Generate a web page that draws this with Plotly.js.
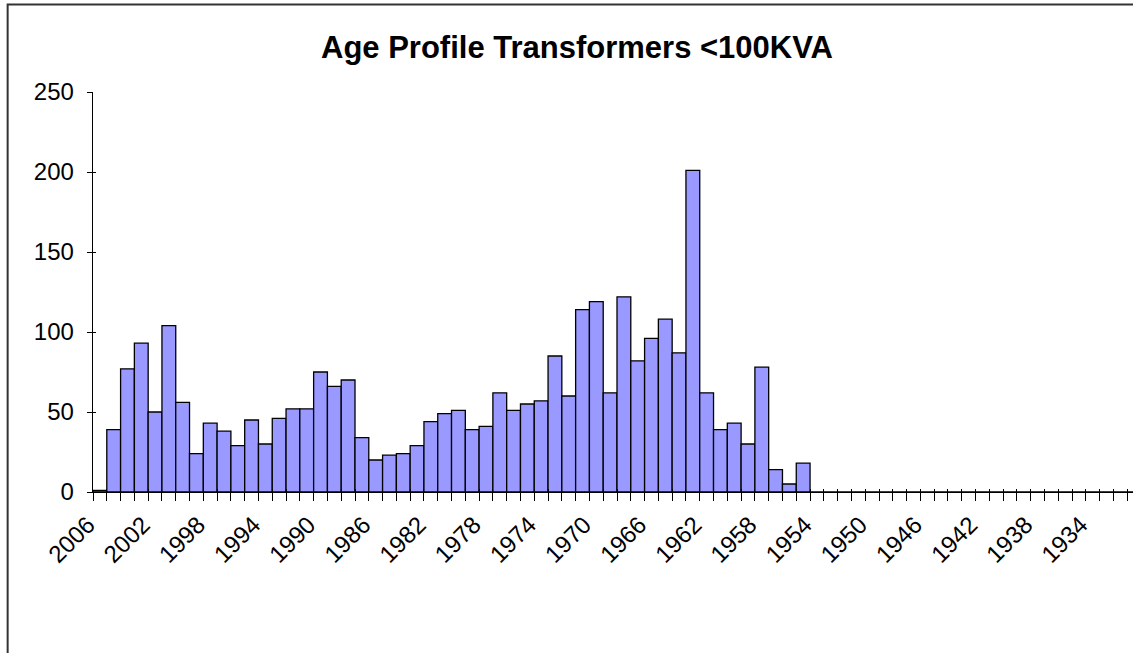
<!DOCTYPE html>
<html>
<head>
<meta charset="utf-8">
<script src="https://cdn.plot.ly/plotly-3.0.1.min.js"></script>
<style>
  html, body { margin: 0; padding: 0; background: #fff; overflow: hidden; width: 1133px; height: 653px; }
  #chart { position: absolute; left: 0; top: 0; width: 1200px; height: 700px; }
</style>
</head>
<body>
<div id="chart"></div>
<script>
// Years shown on the category axis (2006 down to 1931)
const years = [];
for (let y = 2006; y >= 1931; y--) years.push(y);

// Number of transformers per installation year (2006 .. 1955), later years empty
const counts = [
  1, 39, 77, 93, 50, 104, 56, 24, 43, 38,
  29, 45, 30, 46, 52, 52, 75, 66, 70, 34,
  20, 23, 24, 29, 44, 49, 51, 39, 41, 62,
  51, 55, 57, 85, 60, 114, 119, 62, 122, 82,
  96, 108, 87, 201, 62, 39, 43, 30, 78, 14,
  5, 18
];
const values = years.map((y, i) => (i < counts.length ? counts[i] : 0));

// Labelled years (every fourth)
const labelYears = years.filter((y, i) => i % 4 === 0);

const yTicks = [0, 50, 100, 150, 200, 250];

const W = 1200, H = 700;
const plotL = 93.3, plotR = 1140.6, plotT = 92.3, plotB = 491.7;
const xr = [years[0] + 0.5, years[years.length - 1] - 0.5];
const font = { family: 'Liberation Sans, Arial, sans-serif', size: 24, color: '#000' };

// pixel -> paper helpers for the outer chart frame
const px2x = p => (p - plotL) / (plotR - plotL);
const px2y = p => (plotB - p) / (plotB - plotT);

const bars = {
  type: 'bar',
  x: years,
  y: values,
  width: 1,
  marker: { color: '#9999FF', line: { color: '#000', width: 1.3 } },
  hoverinfo: 'x+y'
};
// invisible helper traces so that the overlay axes (tick crosses and labels) are drawn
const helper = (xa, ya) => ({
  type: 'scatter', mode: 'markers', x: years, y: values,
  xaxis: xa, yaxis: ya, marker: { opacity: 0 }, hoverinfo: 'skip', showlegend: false
});

const layout = {
  width: W, height: H,
  margin: { l: plotL, r: W - plotR, t: plotT, b: H - plotB, pad: 0 },
  paper_bgcolor: '#fff', plot_bgcolor: 'rgba(0,0,0,0)',
  showlegend: false,
  bargap: 0,
  font: font,
  title: {
    text: '<b>Age Profile Transformers <100KVA</b>',
    font: { family: 'Liberation Sans, Arial, sans-serif', size: 31, color: '#000' },
    x: 577 / W, xanchor: 'center', xref: 'container',
    y: 1 - 47 / H, yanchor: 'middle', yref: 'container'
  },
  shapes: [{
    type: 'rect', xref: 'paper', yref: 'paper', layer: 'above',
    x0: px2x(8), x1: px2x(1190), y0: px2y(690), y1: px2y(5),
    line: { color: '#333', width: 2 }, fillcolor: 'rgba(0,0,0,0)'
  }],
  xaxis: {
    type: 'linear', range: xr, tick0: 0.5, dtick: 1,
    ticks: 'outside', ticklen: 8, tickwidth: 1, tickcolor: '#000',
    showticklabels: false, showgrid: false, zeroline: false,
    showline: true, linecolor: '#000', linewidth: 1.3
  },
  xaxis2: {
    overlaying: 'x', anchor: 'y', side: 'bottom', type: 'linear', range: xr, tick0: 0.5, dtick: 1,
    ticks: 'inside', ticklen: 3, tickwidth: 1, tickcolor: '#000',
    showticklabels: false, showgrid: false, zeroline: false, showline: false
  },
  xaxis3: {
    overlaying: 'x', anchor: 'y', side: 'bottom', type: 'linear', range: xr,
    tickmode: 'array', tickvals: labelYears, ticktext: labelYears.map(String),
    ticks: '', tickangle: -45, tickfont: font, ticklabelstandoff: 13, ticklabelshift: 12,
    showgrid: false, zeroline: false, showline: false
  },
  yaxis: {
    range: [0, 250], tickmode: 'array', tickvals: yTicks,
    ticks: 'outside', ticklen: 5, tickwidth: 1, tickcolor: '#000',
    tickfont: font, ticklabelstandoff: 8,
    showgrid: false, zeroline: false,
    showline: true, linecolor: '#000', linewidth: 1.3
  },
  yaxis2: {
    overlaying: 'y', anchor: 'x', side: 'left', range: [0, 250], tickmode: 'array', tickvals: yTicks,
    ticks: 'inside', ticklen: 3, tickwidth: 1, tickcolor: '#000',
    showticklabels: false, showgrid: false, zeroline: false, showline: false
  }
};

Plotly.newPlot('chart', [bars, helper('x2', 'y'), helper('x3', 'y'), helper('x', 'y2')], layout,
  { staticPlot: true, displayModeBar: false });
</script>
</body>
</html>
